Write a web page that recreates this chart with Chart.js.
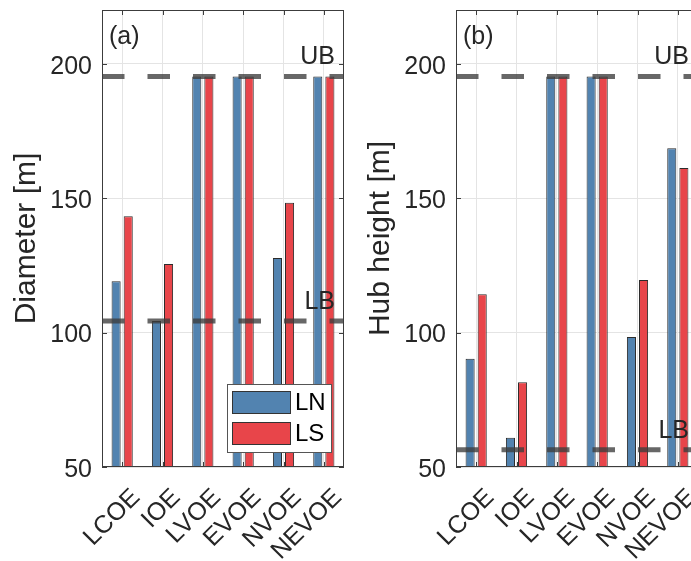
<!DOCTYPE html>
<html>
<head>
<meta charset="utf-8">
<script src="https://cdn.jsdelivr.net/npm/chart.js@4/dist/chart.umd.min.js"></script>
<style>
  html, body { margin: 0; padding: 0; background: #fff; }
  #wrap { position: relative; width: 691px; height: 561px; overflow: hidden; }
  .panel { position: absolute; top: 0; width: 354px; height: 561px; }
</style>
</head>
<body>
<div id="wrap">
  <div class="panel" style="left:0"><canvas id="chartA" width="354" height="561"></canvas></div>
  <div class="panel" style="left:354px"><canvas id="chartB" width="354" height="561"></canvas></div>
</div>
<script>
/* =========================
   DATOS
========================= */
const categories = ["LCOE", "IOE", "LVOE", "EVOE", "NVOE", "NEVOE"];
const seriesNames = ["LN", "LS"];

const diameterLN = [119.1, 104.3, 195.3, 195.3, 127.7, 195.3];
const diameterLS = [143.3, 125.5, 195.3, 195.3, 148.3, 195.3];
const hubLN = [90.3, 60.9, 195.3, 195.3, 98.4, 168.6];
const hubLS = [114.3, 81.5, 195.3, 195.3, 119.6, 161.2];

const boundNames = ["LB", "UB"];
const diameterBounds = [104.3, 195.3];
const hubBounds = [56.4, 195.3];

const yTicks = [50, 100, 150, 200];

/* =========================
   ESTILO
========================= */
const FONT = '"Liberation Sans", Arial, Helvetica, sans-serif';
const TEXT = "#262626";
const GRID = "#e4e4e4";
const colors = ["#5283b0", "#e8454a"];

// marco y ticks hacia adentro, estilo matlab
const boxFrame = {
  id: "boxFrame",
  afterDraw(chart) {
    const { ctx, chartArea: a, scales: { x, y } } = chart;
    ctx.save();
    ctx.strokeStyle = "#3c3c3c";
    ctx.lineWidth = 1;
    ctx.strokeRect(a.left + 0.5, a.top + 0.5, a.right - a.left - 1, a.bottom - a.top - 1);
    ctx.beginPath();
    x.ticks.forEach((t, i) => {
      const px = Math.round(x.getPixelForTick(i)) + 0.5;
      ctx.moveTo(px, a.top); ctx.lineTo(px, a.top + 5);
      ctx.moveTo(px, a.bottom); ctx.lineTo(px, a.bottom - 5);
    });
    y.ticks.forEach(t => {
      const py = Math.round(y.getPixelForValue(t.value)) + 0.5;
      ctx.moveTo(a.left, py); ctx.lineTo(a.left + 5, py);
      ctx.moveTo(a.right, py); ctx.lineTo(a.right - 5, py);
    });
    ctx.stroke();
    ctx.restore();
  }
};

// lineas LB / UB punteadas + etiqueta del panel
const boundLines = {
  id: "boundLines",
  afterDatasetsDraw(chart, args, opts) {
    const { ctx, chartArea: a, scales: { y } } = chart;
    ctx.save();
    ctx.beginPath();
    ctx.rect(a.left, a.top, a.right - a.left, a.bottom - a.top);
    ctx.clip();
    ctx.setLineDash([22.5, 23]);
    ctx.lineWidth = 5;
    ctx.strokeStyle = "rgba(60,60,60,0.78)";
    opts.values.forEach(v => {
      const py = y.getPixelForValue(v);
      ctx.beginPath();
      ctx.moveTo(a.left, py);
      ctx.lineTo(a.right, py);
      ctx.stroke();
    });
    ctx.restore();

    ctx.save();
    ctx.font = "25px " + FONT;
    ctx.fillStyle = TEXT;
    ctx.textAlign = "right";
    ctx.textBaseline = "alphabetic";
    opts.values.forEach((v, i) => {
      ctx.fillText(boundNames[i], a.right - 9, y.getPixelForValue(v) - 12);
    });
    ctx.textAlign = "left";
    ctx.fillText(opts.tag, a.left + 7, a.top + 34);
    ctx.restore();
  }
};

// leyenda con caja dentro del area
const boxLegend = {
  id: "boxLegend",
  afterDraw(chart, args, opts) {
    if (!opts.show) return;
    const { ctx, chartArea: a } = chart;
    const w = 104, h = 68;
    const left = a.right - 13 - w;
    const top = a.bottom - 15 - h;
    ctx.save();
    ctx.fillStyle = "#fff";
    ctx.fillRect(left, top, w, h);
    ctx.strokeStyle = "#555";
    ctx.lineWidth = 1;
    ctx.strokeRect(left + 0.5, top + 0.5, w, h);
    ctx.font = "24px " + FONT;
    ctx.textBaseline = "middle";
    chart.data.datasets.forEach((ds, i) => {
      const sy = top + 7 + i * 31;
      ctx.fillStyle = ds.backgroundColor;
      ctx.fillRect(left + 5, sy, 58, 22);
      ctx.strokeStyle = "#333";
      ctx.strokeRect(left + 5.5, sy + 0.5, 58, 22);
      ctx.fillStyle = "#000";
      ctx.fillText(ds.label, left + 68, sy + 12);
    });
    ctx.restore();
  }
};

function makeChart(id, ln, ls, bounds, title, tag, showLegend) {
  return new Chart(document.getElementById(id), {
    type: "bar",
    data: {
      labels: categories,
      datasets: [ln, ls].map((vals, i) => ({
        label: seriesNames[i],
        data: vals,
        backgroundColor: colors[i],
        borderColor: "#2b2b2b",
        borderWidth: 1,
        categoryPercentage: 0.6,
        barPercentage: 0.75
      }))
    },
    options: {
      responsive: false,
      animation: false,
      layout: { padding: { top: 10, right: 10, left: 0, bottom: 0 } },
      plugins: {
        legend: { display: false },
        tooltip: { enabled: false },
        boundLines: { values: bounds, tag: tag },
        boxLegend: { show: showLegend }
      },
      scales: {
        x: {
          afterFit: s => { s.height = 94; s.paddingLeft = 0; s.paddingRight = 0; },
          grid: { offset: false, color: GRID, drawTicks: false },
          border: { display: false },
          ticks: {
            autoSkip: false,
            maxRotation: 45,
            minRotation: 45,
            padding: 16,
            labelOffset: 14,
            color: TEXT,
            font: { family: FONT, size: 25 }
          }
        },
        y: {
          min: 50,
          max: 220,
          afterBuildTicks: s => { s.ticks = yTicks.map(v => ({ value: v })); },
          afterFit: s => { s.width = 102; s.paddingTop = 0; s.paddingBottom = 0; },
          grid: { color: GRID, drawTicks: false },
          border: { display: false },
          ticks: { padding: 10, labelOffset: 3, color: TEXT, font: { family: FONT, size: 25 } },
          title: {
            display: true,
            text: title,
            color: TEXT,
            font: { family: FONT, size: 30 },
            padding: { top: 9, bottom: 0 }
          }
        }
      }
    },
    plugins: [boundLines, boxLegend, boxFrame]
  });
}

/* =========================
   INIT
========================= */
makeChart("chartA", diameterLN, diameterLS, diameterBounds, "Diameter [m]", "(a)", true);
makeChart("chartB", hubLN, hubLS, hubBounds, "Hub height [m]", "(b)", false);
</script>
</body>
</html>
